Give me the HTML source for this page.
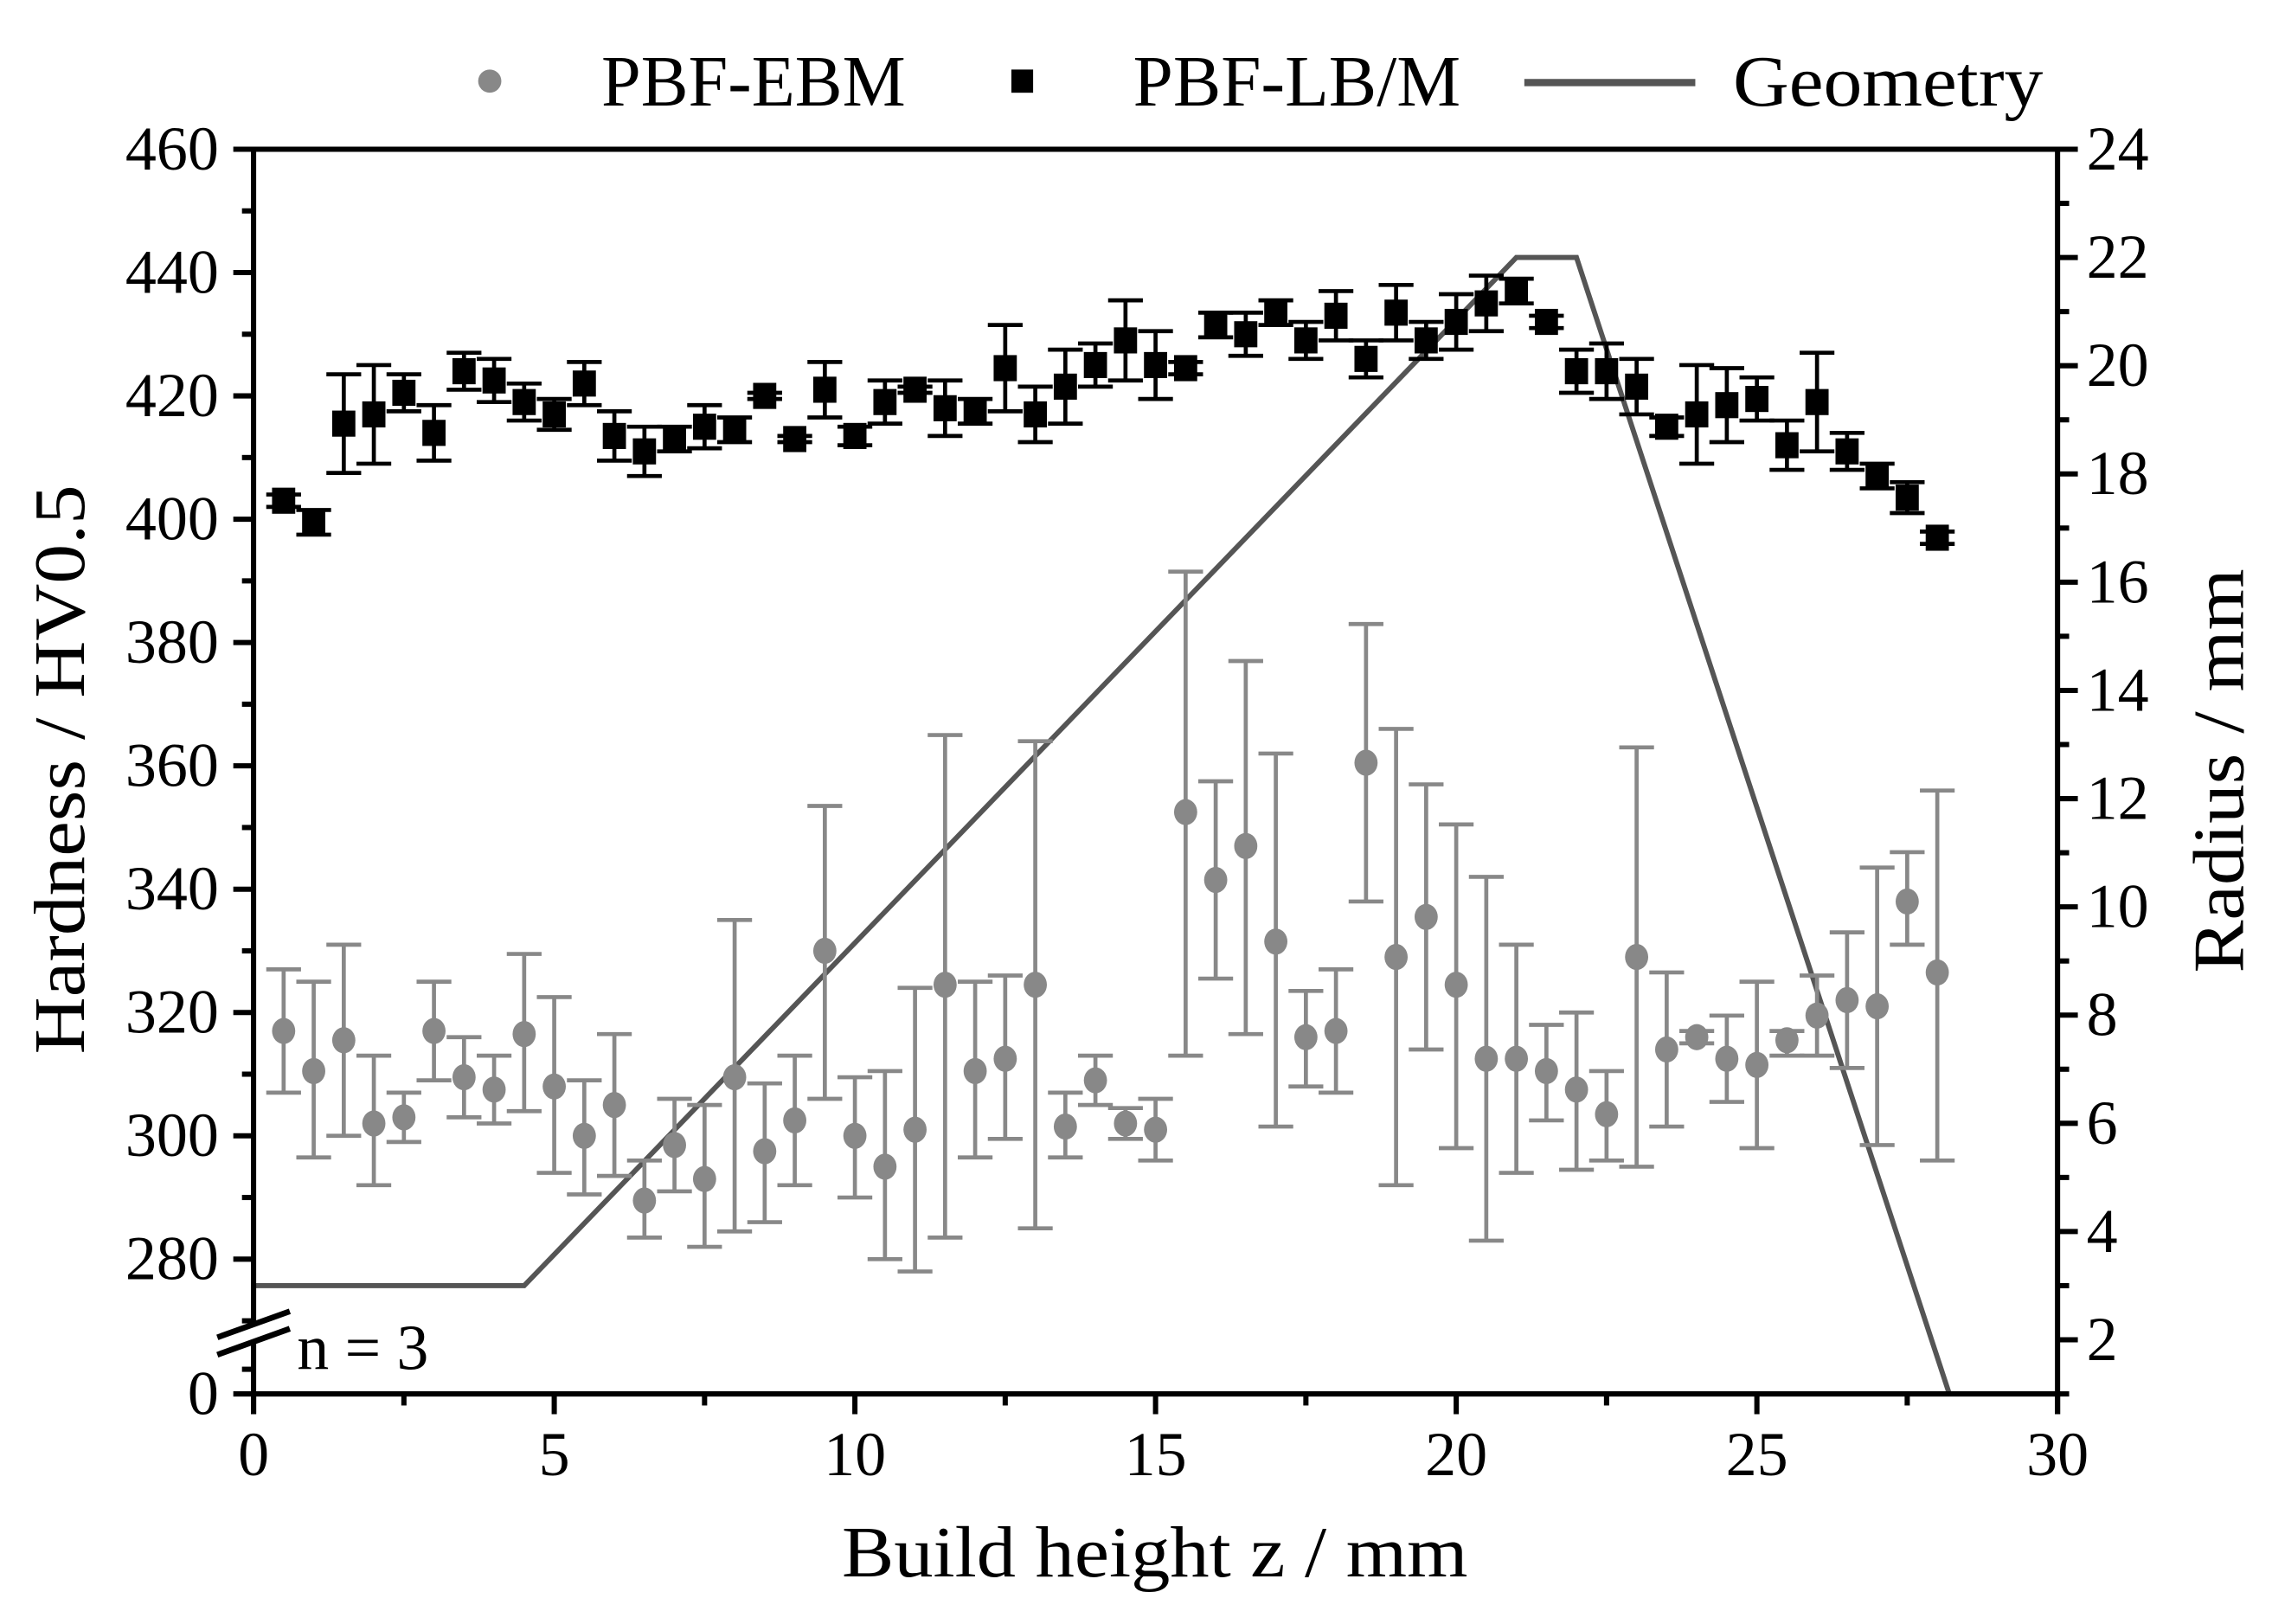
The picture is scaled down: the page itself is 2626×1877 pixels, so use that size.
<!DOCTYPE html>
<html><head><meta charset="utf-8"><style>
html,body{margin:0;padding:0;background:#fff;}
svg{display:block;font-family:"Liberation Serif",serif;}
</style></head><body>
<svg id="chart" xmlns="http://www.w3.org/2000/svg" width="2626" height="1877" viewBox="0 0 1568 1120.8" preserveAspectRatio="none">
<g id="plot"></g>
</svg>
<script>
const xs = [0.5,1,1.5,2,2.5,3,3.5,4,4.5,5,5.5,6,6.5,7,7.5,8,8.5,9,9.5,10,10.5,11,11.5,12,12.5,13,13.5,14,14.5,15,15.5,16,16.5,17,17.5,18,18.5,19,19.5,20,20.5,21,21.5,22,22.5,23,23.5,24,24.5,25,25.5,26,26.5,27,27.5,28];
const lbVals = [403,399.5,415.5,417,420.5,414,424,422.5,419,417,422,413.5,411,413,415,414.5,420,413,421,413.5,419,421,418,417.5,424.5,417,421.5,425,429,425,424.5,431.5,430,433.5,429,433,426,433.5,429,432,435,437,432,424,424,421.5,415,417,418.5,419.5,412,419,411,407,403.5,397];
const lbErr = [1,2,8,8,3,4.5,3,3.5,3,2.5,3.5,4,4,2,3.5,2,0.5,0.5,4.5,1.5,3.5,0.5,4.5,2,7,4.5,6,3.5,6.5,5.5,1,2,3.5,2,3,4,3,4.5,3,4.5,4.5,2,1,3.5,4.5,4.5,1.5,8,6,3.5,4,8,3,2,2.5,1];
const ebmVals = [317,310.5,315.5,302,303,317,309.5,307.5,316.5,308,300,305,289.5,298.5,293,309.5,297.5,302.5,330,300,295,301,324.5,310.5,312.5,324.5,301.5,309,302,301,352.5,341.5,347,331.5,316,317,360.5,329,335.5,324.5,312.5,312.5,310.5,307.5,303.5,329,314,316,312.5,311.5,315.5,319.5,322,321,338,326.5];
const ebmLo = [307,296.5,300,292,299,309,303,302,304,294,290.5,293.5,283.5,291,282,284.5,286,292,306,290,280,278,283.5,296.5,299.5,285,296.5,305,299.5,296,313,325.5,316.5,301.5,308,307,338,292,314,298,283,294,302.5,294.5,296,295,301.5,315,305.5,298,313,313,311,298.5,331,296];
const ebmHi = [327,325,331,313,307,325,316,313,329.5,322.5,309,316.5,296,306,305,335,308.5,313,353.5,309.5,310.5,324,365,325,326,364,307,313,304.5,306,391.5,357.5,377,362,323.5,327,383,366,357,350.5,342,331,318,320,310.5,363,326.5,317,319.5,325,317,326,333,343.5,346,356];
const geoX = [0,4.5,21,22,28.2];
const geoR = [3,3,22,22,1];
const xTicks = [0,5,10,15,20,25,30];
const yTicks = [280,300,320,340,360,380,400,420,440,460];
const rTicks = [2,4,6,8,10,12,14,16,18,20,22,24];

const L=175,R=1420,T=103,B=962;
const sx = v => L + v*(R-L)/30;
const sy = v => v<=0 ? B : 869 - (v-280)*(869-103)/180;
const sr = v => B - (v-1)*(B-T)/23;
const NS="http://www.w3.org/2000/svg";
const g=document.getElementById('plot');
function mk(tag,attrs,parent){const e=document.createElementNS(NS,tag);for(const k in attrs)e.setAttribute(k,attrs[k]);(parent||g).appendChild(e);return e;}

// geometry line
let pts=geoX.map((x,i)=>sx(x)+','+sr(geoR[i])).join(' ');
const gl=mk('polyline',{points:pts,fill:'none',stroke:'#555',"stroke-width":3.5});



// EBM series
xs.forEach((x,i)=>{
  const cx=sx(x), grp=mk('g',{});
  
  
  const y1=sy(ebmLo[i]), y2=sy(ebmHi[i]);
  mk('line',{x1:cx,x2:cx,y1:y1,y2:y2,stroke:'#888',"stroke-width":2.8},grp);
  mk('line',{x1:cx-12,x2:cx+12,y1:y1,y2:y1,stroke:'#888',"stroke-width":2.8},grp);
  mk('line',{x1:cx-12,x2:cx+12,y1:y2,y2:y2,stroke:'#888',"stroke-width":2.8},grp);
  mk('ellipse',{cx:cx,cy:sy(ebmVals[i]),rx:8,ry:9,fill:'#888'},grp);
});
// LB/M series
xs.forEach((x,i)=>{
  const cx=sx(x), grp=mk('g',{});
  
  
  const y1=sy(lbVals[i]-lbErr[i]), y2=sy(lbVals[i]+lbErr[i]);
  mk('line',{x1:cx,x2:cx,y1:y1,y2:y2,stroke:'#000',"stroke-width":2.8},grp);
  mk('line',{x1:cx-12,x2:cx+12,y1:y1,y2:y1,stroke:'#000',"stroke-width":2.8},grp);
  mk('line',{x1:cx-12,x2:cx+12,y1:y2,y2:y2,stroke:'#000',"stroke-width":2.8},grp);
  const yy=sy(lbVals[i]);
  mk('rect',{x:cx-8,y:yy-9,width:16,height:18,fill:'#000'},grp);
});

// axes frame
const ax=mk('g',{stroke:'#000',"stroke-width":3.6,fill:'none'});


mk('line',{x1:L-1.8,x2:R+1.8,y1:T,y2:T},ax);
mk('line',{x1:L-1.8,x2:R+1.8,y1:B,y2:B},ax);
mk('line',{x1:R,x2:R,y1:T,y2:B},ax);
mk('line',{x1:L,x2:L,y1:T,y2:913},ax);
mk('line',{x1:L,x2:L,y1:926,y2:B+14},ax);
mk('line',{x1:R,x2:R,y1:B,y2:B+14},ax);
mk('line',{x1:L-25,x2:L+25,y1:923,y2:905,"stroke-width":4},ax);
mk('line',{x1:L-25,x2:L+25,y1:935,y2:917,"stroke-width":4},ax);

// x ticks
for(let v=0;v<=30;v+=2.5){
  const major=v%5===0;
  mk('line',{x1:sx(v),x2:sx(v),y1:B,y2:B+(major?14:8)},ax);
}
xTicks.forEach(v=>{
  const t=mk('text',{x:sx(v),y:1018,"font-size":43,"text-anchor":"middle",fill:'#000'});
  t.textContent=v;
  
  
});
// left ticks
for(let v=280;v<=460;v+=10){
  const major=v%20===0;
  mk('line',{x1:L,x2:L-(major?14:8),y1:sy(v),y2:sy(v)},ax);
}
mk('line',{x1:L,x2:L-8,y1:sy(270),y2:sy(270)},ax);
mk('line',{x1:L,x2:L-14,y1:B,y2:B},ax);
mk('line',{x1:L,x2:L-8,y1:945,y2:945},ax);
yTicks.concat([0]).forEach(v=>{
  const t=mk('text',{x:151,y:sy(v)+14,"font-size":43,"text-anchor":"end",fill:'#000'});
  t.textContent=v;
  
  
});
// right ticks
for(let v=1;v<=24;v++){
  const major=v%2===0;
  mk('line',{x1:R,x2:R+(major?14:8),y1:sr(v),y2:sr(v)},ax);
}
rTicks.forEach(v=>{
  const t=mk('text',{x:1440,y:sr(v)+14,"font-size":43,"text-anchor":"start",fill:'#000'});
  t.textContent=v;
  
  
});
</script>
<script>
(function(){
const NS="http://www.w3.org/2000/svg", s=document.getElementById('chart');
function tx(txt,attrs,name){const e=document.createElementNS(NS,'text');for(const k in attrs)e.setAttribute(k,attrs[k]);e.textContent=txt;


s.appendChild(e);return e;}
tx('Build height z / mm',{x:797,y:1088,"font-size":50,"text-anchor":"middle",textLength:432,lengthAdjust:"spacingAndGlyphs"},'x-axis-title');
tx('Hardness / HV0.5',{x:0,y:0,"font-size":50,"text-anchor":"middle",textLength:393,lengthAdjust:"spacingAndGlyphs",transform:"translate(58,531) rotate(-90)"},'y-axis-title');
tx('Radius / mm',{x:0,y:0,"font-size":50,"text-anchor":"middle",textLength:279,lengthAdjust:"spacingAndGlyphs",transform:"translate(1548,532) rotate(-90)"},'right-axis-title');
tx('n = 3',{x:205,y:945,"font-size":44},'sample-size-note');
tx('PBF-EBM',{x:415,y:73,"font-size":50,textLength:210,lengthAdjust:"spacingAndGlyphs"},'legend-ebm-label');
tx('PBF-LB/M',{x:782,y:73,"font-size":50,textLength:226,lengthAdjust:"spacingAndGlyphs"},'legend-lbm-label');
tx('Geometry',{x:1196,y:73,"font-size":50,textLength:214,lengthAdjust:"spacingAndGlyphs"},'legend-geometry-label');
const c=document.createElementNS(NS,'circle');c.setAttribute('cx',338);c.setAttribute('cy',56);c.setAttribute('r',8);c.setAttribute('fill','#888');


s.appendChild(c);
const r=document.createElementNS(NS,'rect');r.setAttribute('x',698);r.setAttribute('y',48);r.setAttribute('width',15);r.setAttribute('height',16);r.setAttribute('fill','#000');


s.appendChild(r);
const l=document.createElementNS(NS,'line');l.setAttribute('x1',1052);l.setAttribute('x2',1170);l.setAttribute('y1',57);l.setAttribute('y2',57);l.setAttribute('stroke','#555');l.setAttribute('stroke-width',5);


s.appendChild(l);
})();
</script>
</body></html>
